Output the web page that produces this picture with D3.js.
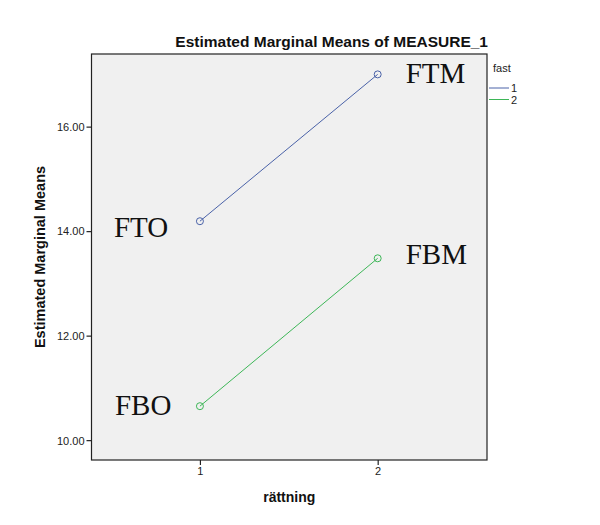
<!DOCTYPE html>
<html>
<head>
<meta charset="utf-8">
<script src="https://cdn.jsdelivr.net/npm/d3@7"></script>
<style>
  body { margin: 0; background: #fff; }
</style>
</head>
<body>
<div id="chart"></div>
<script>
// data
const levels = [1, 2];                 // rättning
const seriesNames = ["1", "2"];        // fast
const fast1 = [14.19, 17.0];
const fast2 = [10.65, 13.48];
const yTicks = [10, 12, 14, 16];
const notes1 = ["FTO", "FTM"];
const notes2 = ["FBO", "FBM"];

const w = 600;
const h = 525;
const m = {left: 91.5, right: 113, top: 54, bottom: 65};
const sans = "Arial, 'Liberation Sans', sans-serif";
const serif = "'Liberation Serif', 'Times New Roman', serif";

const svg = d3.select("#chart")
    .append("svg")
    .attr("width", w)
    .attr("height", h)
    .style("font-family", sans);

const xScale = d3.scaleLinear()
    .domain([0.39, 2.615])
    .range([m.left, w - m.right]);
const yScale = d3.scaleLinear()
    .domain([9.62, 17.39])
    .range([h - m.bottom, m.top]);

// plot background
svg.append("rect")
    .attr("x", m.left)
    .attr("y", m.top)
    .attr("width", w - m.right - m.left)
    .attr("height", h - m.bottom - m.top)
    .attr("fill", "#f0f0f0")
    .attr("stroke", "#222")
    .attr("stroke-width", 1.2);

// axes
const yAxis = svg.append("g")
    .attr("transform", `translate(${m.left},0)`)
    .call(d3.axisLeft(yScale)
        .tickValues(yTicks)
        .tickFormat(d3.format(".2f"))
        .tickSize(5)
        .tickSizeOuter(0));
const xAxis = svg.append("g")
    .attr("transform", `translate(0,${h - m.bottom})`)
    .call(d3.axisBottom(xScale)
        .tickValues(levels)
        .tickFormat(d3.format("d"))
        .tickSize(5)
        .tickSizeOuter(0));
[yAxis, xAxis].forEach(g => {
    g.select(".domain").remove();
    g.selectAll(".tick line").attr("stroke", "#222").attr("stroke-width", 1.2);
    g.selectAll(".tick text")
        .attr("fill", "#222")
        .style("font-size", "11px")
        .style("font-family", sans);
});
yAxis.selectAll(".tick text").attr("x", -7).attr("dy", "0.35em");
xAxis.selectAll(".tick text").attr("y", 7);

// lines and markers
const series = [
    {name: seriesNames[0], values: fast1, color: "#4a62a8", notes: notes1},
    {name: seriesNames[1], values: fast2, color: "#3db657", notes: notes2}
];
const line = d3.line()
    .x((d, i) => xScale(levels[i]))
    .y(d => yScale(d));

// where the hand-written labels sit next to each point
const noteShift = [[{dx: -86, dy: 16}, {dx: 28, dy: 8.5}],
                   [{dx: -85, dy: 9}, {dx: 28, dy: 6}]];

series.forEach((s, si) => {
    svg.append("path")
        .datum(s.values)
        .attr("d", line)
        .attr("fill", "none")
        .attr("stroke", s.color)
        .attr("stroke-width", 1);
    svg.selectAll(null)
        .data(s.values)
        .enter()
        .append("circle")
        .attr("cx", (d, i) => xScale(levels[i]))
        .attr("cy", d => yScale(d))
        .attr("r", 3.5)
        .attr("fill", "none")
        .attr("stroke", s.color)
        .attr("stroke-width", 1);
    svg.selectAll(null)
        .data(s.values)
        .enter()
        .append("text")
        .text((d, i) => s.notes[i])
        .attr("x", (d, i) => xScale(levels[i]) + noteShift[si][i].dx)
        .attr("y", (d, i) => yScale(d) + noteShift[si][i].dy)
        .style("font-family", serif)
        .style("font-size", "29px")
        .attr("fill", "#111");
});

// titles
svg.append("text")
    .text("Estimated Marginal Means of MEASURE_1")
    .attr("x", w - m.right + 1)
    .attr("y", 47)
    .attr("text-anchor", "end")
    .style("font-weight", "bold")
    .style("font-size", "15.5px")
    .attr("fill", "#111");
svg.append("text")
    .text("rättning")
    .attr("x", (m.left + w - m.right) / 2)
    .attr("y", 502)
    .attr("text-anchor", "middle")
    .style("font-weight", "bold")
    .style("font-size", "14px")
    .attr("fill", "#111");
svg.append("text")
    .text("Estimated Marginal Means")
    .attr("transform", `translate(45,${(m.top + h - m.bottom) / 2}) rotate(-90)`)
    .attr("text-anchor", "middle")
    .style("font-weight", "bold")
    .style("font-size", "14.5px")
    .attr("fill", "#111");

// legend
const legend = svg.append("g").attr("transform", "translate(489,0)");
legend.append("text")
    .text("fast")
    .attr("x", 4)
    .attr("y", 72)
    .style("font-size", "11px")
    .attr("fill", "#222");
series.forEach((s, i) => {
    const y = 88 + i * 11.5;
    legend.append("line")
        .attr("x1", 0).attr("x2", 20)
        .attr("y1", y).attr("y2", y)
        .attr("stroke", s.color)
        .attr("stroke-width", 1);
    legend.append("text")
        .text(s.name)
        .attr("x", 22)
        .attr("y", y + 4)
        .style("font-size", "11px")
        .attr("fill", "#222");
});
</script>
</body>
</html>
